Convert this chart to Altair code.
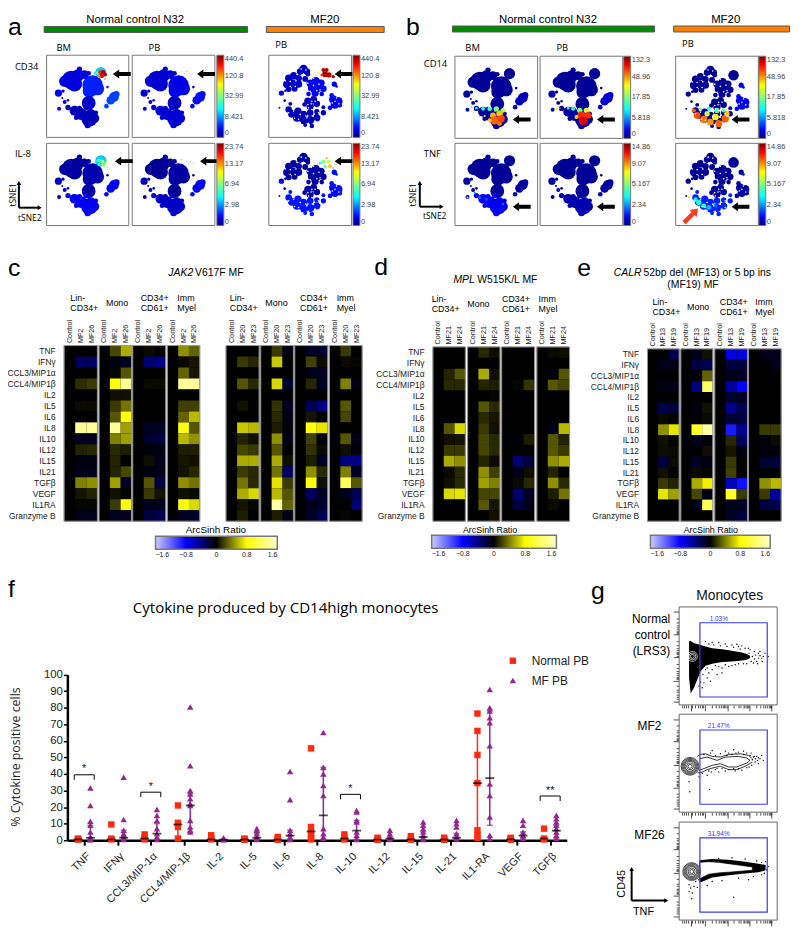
import altair as alt
import pandas as pd

# ---------------------------------------------------------------- data
CYTO_HEAT = ["TNF", "IFNγ", "CCL3/MIP1α", "CCL4/MIP1β", "IL2", "IL5", "IL6", "IL8", "IL10", "IL12",
             "IL15", "IL21", "TGFβ", "VEGF", "IL1RA", "Granzyme B"]

C1 = [
    [[0,-.3,0,.14,0,.03,0,1.4,-.1,.11,-.05,-.08,.4,.06,.02,-.08], [0,-.3,0,.18,0,.03,0,1.4,-.1,.13,-.05,-.08,.45,.11,.02,-.08]],
    [[.22,-.05,.02,.85,.05,.18,.27,1.4,.4,.13,.11,.11,.5,.05,.18,-.1], [.54,-.1,.27,1.4,.05,.36,.85,.5,.5,.09,0,.22,-.1,.02,.85,-.1]],
    [[.03,-.35,0,.03,0,0,0,-.1,-.15,-.03,.04,-.05,.27,.18,-.1,-.2], [.01,-.4,0,.03,0,0,0,-.12,-.2,-.06,-.08,-.08,-.2,.06,-.08,-.25]],
    [[.45,.03,.31,1.4,0,.2,.31,.85,.58,.09,.07,.06,.45,.05,.85,-.1], [.31,.07,.07,1.4,0,.2,.58,.27,.45,.09,.05,.12,.36,.03,.68,-.12]],
]
C2 = [
    [[0,.18,0,.27,0,.05,0,.63,.11,.22,.54,.18,.36,.54,.06,.09], [0,.12,0,.13,0,0,0,.58,.05,.18,.54,.13,.13,.68,.02,0]],
    [[.18,.63,0,.68,0,.16,.13,.09,.45,.27,.54,.36,.72,.58,1.45,.09], [-.06,0,0,-.15,0,-.1,-.05,-.03,-.05,0,.04,-.3,.18,.27,.31,-.08]],
    [[-.12,.2,-.08,.12,0,-.25,.07,.85,.2,.16,.09,.45,.85,-.3,-.08,-.12], [-.15,.03,-.1,-.12,0,-.4,0,.72,-.06,.03,-.12,.13,.05,-.12,-.15,-.25]],
    [[.18,.03,0,.4,0,.27,.22,0,.27,.05,-.4,.4,1.15,-.1,0,.02], [0,.02,0,-.05,0,0,0,0,-.08,-.03,-.4,-.12,.27,-.25,-.35,0]],
]
D1 = [
    [[0,0,.11,.13,0,0,0,.27,.05,.18,.54,.03,.05,.68,0,0], [0,0,.27,.13,0,0,0,.68,.06,.18,.45,.13,.13,.72,0,0]],
    [[.13,0,.54,.11,0,.27,.13,.18,.22,.22,.11,.45,.5,.22,.27,0], [.04,0,.05,.09,.02,.13,.07,.05,.13,.13,.03,.2,.4,.22,.07,.05]],
    [[0,0,0,.02,0,0,0,0,-.03,0,-.35,-.08,.03,-.35,-.2,0], [0,0,0,.16,0,0,0,0,.09,0,-.2,.04,.13,-.12,-.08,0]],
    [[.03,0,-.03,.27,0,0,0,-.08,.27,.27,.45,.11,.45,.09,.03,0], [.04,0,.27,.22,0,0,0,.58,.11,.18,.54,0,.13,.36,0,0]],
]
E1 = [
    [[0,-.08,0,-.06,0,-.25,.03,.45,.05,.04,-.2,.05,.18,.72,0,0], [-.25,-.06,0,-.08,0,-.2,.02,.72,.02,.03,.03,.01,.11,.5,0,0]],
    [[-.08,-.2,0,-.4,0,-.05,-.02,.95,-.08,0,-.12,.03,.54,.22,-.08,0], [.05,-.25,.31,1.2,0,.05,.03,1.45,-.05,.04,-.05,.02,.76,-.05,1.15,0]],
    [[-.7,-.2,-.08,-.5,-.15,-.45,-.15,-.9,.13,.07,.18,.2,-.6,.95,-.08,-.12], [-.7,-.2,-.12,-.8,-.12,-.25,-.2,-.45,-.3,-.06,.01,.01,-.85,.18,-.12,-.2]],
    [[-.08,0,0,0,0,0,0,.18,-.03,-.03,-.15,0,.45,.18,-.2,0], [-.08,-.08,0,0,0,0,0,.18,.03,-.03,-.2,0,.58,-.5,-.25,0]],
]

CYTO_F = ["TNF", "IFNγ", "CCL3/MIP-1α", "CCL4/MIP-1β", "IL-2", "IL-5", "IL-6", "IL-8", "IL-10", "IL-12",
          "IL-15", "IL-21", "IL1-RA", "VEGF", "TGFβ"]
NORMAL = [[.5,.5,.7,1], [9.5,1,.5], [3.5,1.5,.5], [21,10.5,8,1], [3,1.5,.5], [1,.5,.3], [2,1,.3],
          [55.5,8,5,3,1,.5], [3.5,1.5,.5], [1.5,.5,.3], [2.5,1,.3], [1.5,.5,.3],
          [76.5,66,51.5,34.5,6,3,1.5], [1.5,.7,.3], [7,1,.5]]
MF = [[31.5,21,11.5,9,5,2,1,.5,.3], [38,12.5,6,4,3,1.5,.5], [18.5,15,12,7,4,2,.5],
      [80.5,45,30,28,25,22,21,12,8,6,5], [1.5,.5,.3], [7,6,4,2,1,.5], [41.5,24.5,6,4,2,1,.5],
      [65,44,40,33,27,7,4,2,1], [18,17,12,11,5,3,1,.5], [6,4,2,1,.5], [11,9,7,5,3,1.5,.5],
      [12,10,8,4,2,.7], [91,80,78,74,71,57,34,27,14,3,1], [12,9,5,3,1], [15,13,11,9,7,5,3,1]]
NORMAL_MED = [.5,.5,1,9.5,.5,.4,.4,5.3,1,.4,.5,.4,34.5,.5,1]
MF_MED = [1.5,1.5,4,21,.3,1.5,2.8,15,5.8,1,2,1.5,37.5,2.8,5.8]
NORMAL_LO = [.5,.5,.5,1,.5,.3,.3,.5,.5,.3,.3,.3,.5,.3,.5]
NORMAL_HI = [.7,1,2,11,1.5,.5,1,8,1.5,.5,1,.5,66,.7,1]
MF_LO = [.3,.5,.5,5,.3,.5,.5,.5,.5,.5,.5,.7,9,1,1]
MF_HI = [9,6,10,28,.5,4,6,44,12,2,5,4,78,5,9]
BRACKETS = [("TNF", 39.5, "*"), ("CCL3/MIP-1α", 29, "*"), ("IL-10", 27.7, "*"), ("TGFβ", 26.7, "**")]

# tSNE clusters: region, position, cluster radius
NORMAL_BLOBS = [
    ("tl",55,79,17),("tl",75,75,28),("tl",95,62,19),("tl",85,87,23),("tl",100,42,8),("tl",115,59,13),("tl",128,55,7),
    ("center",140,92,31),("center",130,109,20),("center",155,102,20),("center",158,84,10),("center",185,97,4),
    ("ring",128,145,21),
    ("right",205,127,15),("right",195,137,13),("right",182,155,7),("right",212,119,10),
    ("left",36,115,11),("left",50,109,5),("left",55,142,6),("left",65,137,4),("left",38,163,6),("left",48,130,3),
    ("bottom",65,159,8),("bottom",85,169,15),("bottom",105,179,18),("bottom",130,192,25),("bottom",145,192,15),
    ("bottom",125,212,10),("bottom",100,162,8),("bottom",120,159,8),("bottom",135,177,13),("bottom",90,190,7),("bottom",150,175,7),
    ("cd34",165,53,17),
]
MF_BLOBS = [
    ("tl",105,42,13),("tl",95,50,10),("tl",115,50,10),("tl",60,70,11),("tl",75,62,11),("tl",90,70,10),("tl",55,88,12),("tl",72,85,12),
    ("tl",90,88,11),("tl",60,103,9),("tl",78,102,9),("tl",110,72,9),("tl",118,58,7),
    ("center",125,85,11),("center",142,78,12),("center",158,85,11),("center",130,100,12),("center",148,98,14),("center",165,102,10),
    ("center",140,115,11),("center",120,118,7),("center",160,118,7),
    ("ring",118,140,11),("ring",135,135,11),("ring",145,148,10),("ring",125,155,11),("ring",108,150,7),
    ("right",195,135,13),("right",210,140,13),("right",200,150,13),("right",190,122,7),("right",185,160,7),("right",215,152,7),
    ("right",198,88,8),("right",205,95,4),
    ("left",38,115,8),("left",50,108,4),("left",32,160,3),("left",48,138,4),
    ("bottom",65,148,6),("bottom",60,165,10),("bottom",70,178,12),("bottom",88,170,11),("bottom",85,190,12),("bottom",105,180,11),
    ("bottom",105,198,12),("bottom",125,175,10),("bottom",125,197,12),("bottom",145,190,11),("bottom",145,172,8),("bottom",165,175,8),
    ("bottom",165,158,6),("bottom",130,215,7),("bottom",110,212,6),
    ("cd34",175,58,16),
]
MF_SPECKLE = [(100,60),(82,78),(65,95),(118,85),(135,92),(152,88),(125,128),(150,128),(128,148),(118,150),(138,158),
              (95,100),(70,118),(85,115),(100,130),(70,155),(85,150),(105,165),(130,165),(150,160),(95,180),(115,190),
              (135,185),(155,182),(78,192),(95,205),(120,207),(200,140),(192,145),(108,60),(85,58),(50,78),(170,90),(135,70),
              (110,105),(65,80),(80,95),(98,42),(112,45),(145,108),(125,110),(155,105),(130,140),(120,160),(140,140),(60,175),(75,170),
              (90,195),(112,185),(140,200),(205,130),(212,148),(150,175)]

IL8_HOT_BM = [(150,55,4,.35),(160,52,6,.45),(170,55,6,.55),(172,65,6,.5),(160,65,5,.4),(180,60,4,.6),(185,72,2,.7)]
IL8_HOT_PB = [(150,50,2,.4),(165,55,2,.55),(175,55,2,.4),(185,60,1.5,.8),(170,62,2,.45)]
IL8_HOT_MF = [(155,60,4,.35),(165,55,6,.5),(180,55,6,.6),(185,70,6,.7),(170,70,5,.45),(195,75,2,.8),(175,45,3,.75)]
CD34_HOT_BM = [(155,54,5,.5),(147,54,4,.35),(163,52,6,.85),(172,52,7,.95),(178,59,6,.97),(168,62,7,.9),(160,65,4,.75),(178,72,2,.9)]
CD34_HOT_PB = [(150,48,1.5,.75),(158,55,1.5,.8),(165,50,1.5,.85),(172,56,1.5,.8),(168,46,1,.7),(180,58,1,.85)]
CD34_HOT_MF = [(140,50,2,.6),(152,55,3,.65),(165,45,6,.95),(175,45,6,.95),(170,58,9,.97),(182,60,8,.95),(195,65,5,.97),(160,60,4,.85)]
CD14_HOT_BM = [(50,155,3,.4),(65,158,4,.35),(85,160,6,.38),(105,160,7,.42),(125,160,8,.5),(145,165,7,.55),(135,175,10,.7),
               (115,180,9,.72),(120,195,13,.8),(140,190,11,.83),(105,195,6,.7),(135,205,7,.78),(90,182,3,.6),(75,183,2,.75)]
CD14_HOT_PB = [(60,158,2,.6),(85,158,4,.4),(100,160,6,.4),(120,165,8,.5),(140,165,8,.6),(125,180,12,.85),(145,180,10,.85),
               (130,197,13,.92),(110,185,6,.7),(50,160,3,.7),(40,155,2,.6)]
CD14_HOT_MF = [(55,165,6,.8),(65,180,10,.82),(85,192,11,.78),(105,200,10,.75),(130,205,11,.8),(150,190,11,.8),(155,175,8,.7),
               (120,185,10,.65),(95,175,8,.6),(125,165,8,.45),(100,160,6,.4),(145,165,6,.45),(75,160,5,.5)]
TNF_HOT_BM = [(38,165,3,.45),(60,150,3,.25),(75,165,5,.2),(95,170,5,.18),(145,185,4,.2)]
TNF_HOT_MF = [(70,180,8,.4),(85,190,7,.42),(60,170,6,.35),(100,195,7,.3),(120,190,6,.2),(40,165,3,.7),(150,195,3,.4)]

# ---------------------------------------------------------------- helpers
W, H = 792, 924
SANS = "Liberation Sans"
HUMAN = "Open Sans"
layers = []

def one():
    return alt.Data(values=[{}])

def T(s, x, y, size=10, font=SANS, align="left", color="black", angle=0, style="normal"):
    kw = dict(text=s, fontSize=size, font=font, align=align, baseline="middle", color=color, fontStyle=style)
    if angle:
        kw["angle"] = angle
    layers.append(alt.Chart(one()).mark_text(**kw).encode(x=alt.value(x - 8), y=alt.value(y - 8)))

def box(x0, x1, y0, y1, stroke="#777777", sw=1.0, fill=None):
    kw = dict(stroke=stroke, strokeWidth=sw, fillOpacity=0 if fill is None else 1)
    kw["fill"] = fill if fill else "white"
    layers.append(alt.Chart(one()).mark_rect(**kw).encode(
        x=alt.value(x0 - 8), x2=alt.value(x1 - 8), y=alt.value(y0 - 8), y2=alt.value(y1 - 8)))

ARROW = "M-1,0 L-0.3,-0.5 L-0.3,-0.22 L1,-0.22 L1,0.22 L-0.3,0.22 L-0.3,0.5 Z"

def arrow(x, y, color="black", size=324, angle=0):
    kw = dict(shape=ARROW, filled=True, color=color, size=size, opacity=1, strokeWidth=0)
    if angle:
        kw["angle"] = angle
    layers.append(alt.Chart(one()).mark_point(**kw).encode(x=alt.value(x - 8), y=alt.value(y - 8)))

def lshape(cx, cy, up, right, sw=2):
    layers.append(alt.Chart(one()).mark_rule(color="black", strokeWidth=sw).encode(
        x=alt.value(cx - 8), y=alt.value(cy - 8), y2=alt.value(up - 8)))
    layers.append(alt.Chart(one()).mark_rule(color="black", strokeWidth=sw).encode(
        x=alt.value(cx - 8), x2=alt.value(right - 8), y=alt.value(cy - 8)))
    for shp, x, y in (("triangle-up", cx, up), ("triangle-right", right, cy)):
        layers.append(alt.Chart(one()).mark_point(shape=shp, filled=True, color="black", size=22, opacity=1).encode(
            x=alt.value(x - 8), y=alt.value(y - 8)))

def S(lo, hi, r0, r1):
    return alt.Scale(domain=[lo, hi], range=[r0 - 8, r1 - 8], nice=False, zero=False)

JET_DOM = [0, .11, .35, .5, .65, .89, 1]
JET_RNG = ["#00007f", "#0000ff", "#00ffff", "#7fff7f", "#ffff00", "#ff0000", "#7f0000"]

def tsne(x0, x1, y0, y1, blobs, levels, hot=(), speckle=(), bar=None, barx=None):
    box(x0, x1, y0, y1)
    rows = [dict(x=b[1], y=b[2], r=4 * (b[3] / 3) ** 2, level=levels.get(b[0])) for b in blobs if b[0] in levels]
    rows += [dict(x=h[0], y=h[1], r=4 * (h[2] / 3) ** 2, level=h[3]) for h in hot]
    legend = None
    if bar:
        expr = "[" + ",".join("'%s'" % b for b in bar) + "][round(datum.value*4)]"
        legend = alt.Legend(orient="none", legendX=barx - 8, legendY=y0 - 8, direction="vertical", gradientLength=y1 - y0,
                            gradientThickness=7, values=[0, .25, .5, .75, 1], labelExpr=expr, labelFontSize=7.5, labelFont=SANS,
                            labelColor="#444444", title=None, padding=0, gradientStrokeColor="#777777", gradientStrokeWidth=1,
                            labelOffset=1, tickCount=5)
    layers.append(alt.Chart(pd.DataFrame(rows)).mark_circle(opacity=1).encode(
        x=alt.X("x:Q", scale=S(0, 250, x0, x1), axis=None),
        y=alt.Y("y:Q", scale=S(0, 250, y0, y1), axis=None),
        size=alt.Size("r:Q", scale=None),
        color=alt.Color("level:Q", scale=alt.Scale(domain=JET_DOM, range=JET_RNG, nice=False, zero=False, clamp=True, interpolate="rgb"),
                        legend=legend)))
    if speckle:
        sp = pd.DataFrame(speckle, columns=["x", "y"])
        layers.append(alt.Chart(sp).mark_circle(color="white", size=2.5, opacity=1).encode(
            x=alt.X("x:Q", scale=S(0, 250, x0, x1), axis=None),
            y=alt.Y("y:Q", scale=S(0, 250, y0, y1), axis=None)))

HEAT_DOM = [-1.6, -.8, 0, .8, 1.6]
HEAT_RNG = ["#ccccff", "#0000ff", "#000000", "#ffff00", "#ffffcc"]

def heat(spans, top, bottom, patients, values, ylabels=True, legend_at=None):
    cols = ["Control"] + patients
    for i, ((x0, x1), vals) in enumerate(zip(spans, values)):
        rows = []
        for r, c in enumerate(CYTO_HEAT):
            rows.append(dict(c=c, col=cols[0], v=0))
            rows.append(dict(c=c, col=cols[1], v=vals[0][r]))
            rows.append(dict(c=c, col=cols[2], v=vals[1][r]))
        legend = None
        if i == 0 and legend_at:
            legend = alt.Legend(orient="none", legendX=legend_at[0] - 8, legendY=legend_at[1] - 8, direction="horizontal",
                                gradientLength=legend_at[2], gradientThickness=13, values=HEAT_DOM, title=None, padding=0,
                                labelFontSize=7, labelFont=SANS, labelColor="#222222",
                                labelExpr="datum.value==0?'0':format(datum.value,'.1f')",
                                gradientStrokeColor="#777777", gradientStrokeWidth=1.5)
        yaxis = None
        if i == 0 and ylabels:
            yaxis = alt.Axis(orient="left", offset=-(x0 - 8), title=None, domain=False, ticks=False, labelFontSize=8.5,
                             labelFont=SANS, labelPadding=9, labelColor="#222222", labelOverlap=False, grid=False)
        box(x0, x1, top, bottom, stroke="#999999", sw=1, fill="black")
        layers.append(alt.Chart(pd.DataFrame(rows)).mark_rect().encode(
            x=alt.X("col:N", sort=None, scale=alt.Scale(domain=cols, range=[x0 - 8, x1 - 8], paddingInner=0, paddingOuter=0),
                    axis=alt.Axis(orient="top", offset=-(top - 8), title=None, domain=False, ticks=False, labelAngle=270,
                                  labelAlign="left", labelBaseline="middle", labelFontSize=7.3, labelFont=SANS,
                                  labelPadding=3, labelColor="#222222", labelOverlap=False, grid=False)),
            y=alt.Y("c:N", sort=None, scale=alt.Scale(domain=CYTO_HEAT, range=[top - 8, bottom - 8], paddingInner=0, paddingOuter=0),
                    axis=yaxis),
            color=alt.Color("v:Q", scale=alt.Scale(domain=HEAT_DOM, range=HEAT_RNG, nice=False, zero=False, clamp=True, interpolate="rgb"),
                            legend=legend)))
        box(x0, x1, top, bottom, stroke="#999999", sw=1)

def headers(xs, y_two, y_one, size=9):
    T("Lin-", xs[0], y_two, size); T("CD34+", xs[0], y_two + 10, size)
    T("Mono", xs[1], y_one, size)
    T("CD34+", xs[2], y_two, size); T("CD61+", xs[2], y_two + 10, size)
    T("Imm", xs[3], y_two, size); T("Myel", xs[3], y_two + 10, size)

# ---------------------------------------------------------------- panel letters
for s, x, y in (("a", 8, 23), ("b", 410, 23), ("c", 8, 266), ("d", 378, 265), ("e", 583, 266), ("f", 8, 590), ("g", 597, 592)):
    T(s, x, y, 25)

# ---------------------------------------------------------------- panel a
GREEN, ORANGE = "#008a00", "#ff8000"
T("Normal control N32", 136.5, 15, 11.5, align="center"); T("MF20", 328, 15, 11.5, align="center")
box(44.5, 250, 22, 28, stroke="#555555", fill=GREEN); box(269, 388, 22, 28, stroke="#555555", fill=ORANGE)
T("BM", 57, 44, 9.5, HUMAN); T("PB", 150, 44, 9.5, HUMAN); T("PB", 278, 41, 9.5, HUMAN)
T("CD34", 15, 63, 9.5, HUMAN); T("IL-8", 15, 151, 9.5, HUMAN)
B_CD34 = ["0", "8.421", "32.99", "120.8", "440.4"]
B_IL8 = ["0", "2.98", "6.94", "13.17", "23.74"]
tsne(47, 130, 51, 134, NORMAL_BLOBS, dict(tl=.08, center=.14, ring=.07, right=.17, left=.1, bottom=.05, cd34=.3), CD34_HOT_BM)
tsne(133.5, 217, 51, 134, NORMAL_BLOBS, dict(tl=.07, center=.09, ring=.06, right=.12, left=.08, bottom=.07), CD34_HOT_PB,
     bar=B_CD34, barx=219)
tsne(271.5, 355, 51, 134, MF_BLOBS, dict(tl=.06, center=.1, ring=.05, right=.1, left=.07, bottom=.05), CD34_HOT_MF, MF_SPECKLE,
     bar=B_CD34, barx=356.5)
tsne(47, 130, 140, 223, NORMAL_BLOBS, dict(tl=.03, center=.04, ring=.03, right=.1, left=.06, bottom=.1, cd34=.3), IL8_HOT_BM)
tsne(133.5, 217, 140, 223, NORMAL_BLOBS, dict(tl=.02, center=.03, ring=.02, right=.1, left=.05, bottom=.06), IL8_HOT_PB,
     bar=B_IL8, barx=219)
tsne(271.5, 355, 140, 223, MF_BLOBS, dict(tl=.03, center=.03, ring=.03, right=.12, left=.08, bottom=.13, ), IL8_HOT_MF, MF_SPECKLE,
     bar=B_IL8, barx=356.5)
for x, y in ((123, 70), (208, 70), (347, 70), (125, 158), (211, 158), (347, 158)):
    arrow(x, y)
lshape(19, 205, 180, 40)
T("tSNE1", 13, 192, 8.5, HUMAN, align="center", angle=270); T("tSNE2", 30, 215, 8.5, HUMAN, align="center")

# ---------------------------------------------------------------- panel b
T("Normal control N32", 553.5, 15, 11.5, align="center"); T("MF20", 733, 15, 11.5, align="center")
box(457, 661, 21.5, 27.5, stroke="#555555", fill=GREEN); box(680.5, 797.5, 21.5, 27.5, stroke="#555555", fill=ORANGE)
T("BM", 470, 44, 9.5, HUMAN); T("PB", 562, 44, 9.5, HUMAN); T("PB", 689, 40, 9.5, HUMAN)
T("CD14", 428, 60, 9.5, HUMAN); T("TNF", 428, 151, 9.5, HUMAN)
B_CD14 = ["0", "5.818", "17.85", "48.96", "132.3"]
B_TNF = ["0", "2.34", "5.167", "9.07", "14.86"]
LOW = dict(tl=.02, center=.02, ring=.02, right=.03, left=.03, bottom=.03, cd34=.02)
tsne(459.5, 543, 52, 135, NORMAL_BLOBS, {**LOW, "right": .05}, CD14_HOT_BM)
tsne(545.5, 629, 52, 135, NORMAL_BLOBS, {**LOW, "right": .07}, CD14_HOT_PB, bar=B_CD14, barx=630)
tsne(682.5, 766, 52, 135, MF_BLOBS, {**LOW, "right": .1}, CD14_HOT_MF, MF_SPECKLE, bar=B_CD14, barx=766.5)
tsne(459.5, 543, 140, 223, NORMAL_BLOBS, {**LOW, "bottom": .1}, TNF_HOT_BM)
tsne(545.5, 629, 140, 223, NORMAL_BLOBS, {**LOW, "bottom": .04}, (), bar=B_TNF, barx=630)
tsne(682.5, 766, 140, 223, MF_BLOBS, {**LOW, "bottom": .14}, TNF_HOT_MF, MF_SPECKLE, bar=B_TNF, barx=766.5)
for x, y in ((527, 116), (612, 116), (748, 116), (527, 204), (612, 204), (748, 204)):
    arrow(x, y)
arrow(698, 213, color="#ff3a1f", size=400, angle=135)
lshape(424, 204, 180, 446)
T("tSNE1", 417, 192, 8.5, HUMAN, align="center", angle=270); T("tSNE2", 439, 213, 8.5, HUMAN, align="center")

# ---------------------------------------------------------------- heatmaps c, d, e
T("JAK2", 170, 271, 10.5, style="italic"); T("V617F MF", 197, 271, 10.5)
headers([71, 107, 142, 179], 296, 301); headers([232, 268, 303, 340], 296, 301)
heat([(64.7, 98.3), (100, 132.7), (134, 167.3), (169, 201.7)], 344.3, 521.7, ["MF2", "MF26"], C1,
     legend_at=(157, 537, 123))
heat([(228.3, 261.7), (263.3, 296.3), (297.7, 331), (332.7, 365.7)], 344.3, 521.7, ["MF20", "MF23"], C2, ylabels=False)
T("ArcSinh Ratio", 218, 531, 10, align="center")

T("MPL", 458, 278, 10.5, style="italic"); T("W515K/L MF", 482, 278, 10.5)
headers([436, 472, 507, 544], 297, 302)
heat([(437.3, 470), (472.3, 505), (506.7, 540), (542.3, 575.3)], 345.7, 521.7, ["MF21", "MF24"], D1, legend_at=(436, 536, 126))
T("ArcSinh Ratio", 495, 531, 9, align="center")

T("CALR", 620, 271, 10.5, style="italic"); T("52bp del (MF13) or 5 bp ins", 650, 271, 10.5)
T("(MF19) MF", 700, 283, 10.5, align="center")
headers([659, 694, 727, 763], 300, 305)
heat([(654, 686), (687.7, 720), (722, 755), (756, 789)], 347.7, 521.7, ["MF13", "MF19"], E1, legend_at=(657, 536, 121))
T("ArcSinh Ratio", 718, 531, 9, align="center")

# ---------------------------------------------------------------- panel f
T("Cytokine produced by CD14high monocytes", 288.5, 609, 15.2, HUMAN, align="center")
T("% Cytokine  positive cells", 16, 760, 12.5, HUMAN, align="center", angle=270, color="#222222")
RED, PURPLE = "#ff2a10", "#93278f"
OFFSET = .185
FX = S(-.5, 14.5, 68.2, 572.5)
FY = S(0, 100, 844, 676.7)
pts = []
stat = []
for i, c in enumerate(CYTO_F):
    for v in NORMAL[i]:
        pts.append(dict(pos=i - OFFSET, v=v, s="Normal PB"))
    for v in MF[i]:
        pts.append(dict(pos=i + OFFSET, v=v, s="MF PB"))
    stat.append(dict(pos=i - OFFSET, med=NORMAL_MED[i], lo=NORMAL_LO[i], hi=NORMAL_HI[i], s="Normal PB"))
    stat.append(dict(pos=i + OFFSET, med=MF_MED[i], lo=MF_LO[i], hi=MF_HI[i], s="MF PB"))
pts = pd.DataFrame(pts)
stat = pd.DataFrame(stat)

layers.append(alt.Chart(stat[stat.s == "Normal PB"]).mark_rule(color=RED, strokeWidth=1.5).encode(
    x=alt.X("pos:Q", scale=FX, axis=alt.Axis(
        orient="bottom", offset=(844 - 8) - H, values=list(range(15)), title=None, grid=False,
        labelExpr="[" + ",".join("'%s'" % c for c in CYTO_F) + "][datum.value]",
        labelAngle=315, labelAlign="right", labelBaseline="top", labelFontSize=11, labelFont=SANS, labelColor="#222222",
        labelPadding=5, labelOverlap=False, domainColor="black", domainWidth=2.5, tickColor="black", tickWidth=2, tickSize=5)),
    y=alt.Y("lo:Q", scale=FY, axis=alt.Axis(
        orient="left", offset=-(68 - 8), values=list(range(0, 101, 10)), title=None, grid=False, labelFontSize=11.5,
        labelFont=SANS, labelColor="#222222", labelPadding=1, domainColor="black", domainWidth=2.5, tickColor="black",
        tickWidth=1.5, tickSize=4)),
    y2="hi:Q"))
layers.append(alt.Chart(stat[stat.s == "MF PB"]).mark_rule(color=PURPLE, strokeWidth=1.5).encode(
    x=alt.X("pos:Q", scale=FX, axis=None), y=alt.Y("lo:Q", scale=FY, axis=None), y2="hi:Q"))
for col in ("lo", "hi"):
    layers.append(alt.Chart(stat[stat.s == "MF PB"]).mark_tick(color=PURPLE, orient="horizontal", size=6, thickness=1.5).encode(
        x=alt.X("pos:Q", scale=FX, axis=None), y=alt.Y(col + ":Q", scale=FY, axis=None)))
layers.append(alt.Chart(pts[pts.s == "Normal PB"]).mark_point(shape="square", filled=True, color=RED, size=42, opacity=1).encode(
    x=alt.X("pos:Q", scale=FX, axis=None), y=alt.Y("v:Q", scale=FY, axis=None)))
layers.append(alt.Chart(pts[pts.s == "MF PB"]).mark_point(shape="triangle-up", filled=True, color=PURPLE, size=42, opacity=1).encode(
    x=alt.X("pos:Q", scale=FX, axis=None), y=alt.Y("v:Q", scale=FY, axis=None)))
layers.append(alt.Chart(stat).mark_tick(color="black", orient="horizontal", size=9, thickness=1.8).encode(
    x=alt.X("pos:Q", scale=FX, axis=None), y=alt.Y("med:Q", scale=FY, axis=None)))
br = []
for n, (c, y, lab) in enumerate(BRACKETS):
    i = CYTO_F.index(c)
    for k, (dx, dy) in enumerate(((-.3, -3), (-.3, 0), (.3, 0), (.3, -3))):
        br.append(dict(b=n, k=k, pos=i + dx, v=y + dy))
layers.append(alt.Chart(pd.DataFrame(br)).mark_line(color="black", strokeWidth=1).encode(
    x=alt.X("pos:Q", scale=FX, axis=None), y=alt.Y("v:Q", scale=FY, axis=None), detail="b:N", order="k:Q"))
stars = pd.DataFrame([dict(pos=CYTO_F.index(c), v=y + 3.2, t=lab) for c, y, lab in BRACKETS])
layers.append(alt.Chart(stars).mark_text(fontSize=11, font=SANS, baseline="middle", color="#222222").encode(
    x=alt.X("pos:Q", scale=FX, axis=None), y=alt.Y("v:Q", scale=FY, axis=None), text="t:N"))
layers.append(alt.Chart(one()).mark_point(shape="square", filled=True, color=RED, size=42, opacity=1).encode(
    x=alt.value(518 - 8), y=alt.value(662.7 - 8)))
layers.append(alt.Chart(one()).mark_point(shape="triangle-up", filled=True, color=PURPLE, size=42, opacity=1).encode(
    x=alt.value(518 - 8), y=alt.value(682.7 - 8)))
T("Normal PB", 537, 662.7, 12, color="#222222"); T("MF PB", 537, 682.7, 12, color="#222222")

# ---------------------------------------------------------------- panel g
X_MAJOR = [35, 78, 146, 214, 280]
X_MINOR = [8, 14, 20, 26, 40, 48, 56, 62, 68, 72, 98, 111, 119, 126, 131, 136, 139, 143, 166, 179, 187, 194, 199, 204, 207, 211,
           234, 247, 255, 262, 267, 272, 275, 279]
Y_MAJOR = [15, 83, 153, 223, 287]
Y_MINOR = [35, 48, 56, 63, 68, 73, 76, 80, 103, 116, 124, 131, 136, 141, 144, 148, 173, 186, 194, 201, 206, 211, 214, 218,
           240, 250, 258, 265, 272, 278]
WEDGE_X = [30, 35, 45, 55, 65, 80, 100, 130, 160, 190, 205, 215]
WEDGE_TOP = [105, 103, 110, 112, 115, 120, 125, 128, 133, 138, 143, 148]
WEDGE_BOT = [215, 262, 245, 220, 195, 178, 172, 167, 165, 162, 160, 155]
DOTS1 = [(245,148),(250,155),(240,140),(235,165),(255,150),(225,170),(215,130),(200,125),(180,120),(160,115),(140,112),(120,108),
         (100,108),(80,105),(150,180),(130,185),(100,190),(90,200),(85,215),(75,230),(95,225),(130,200),(115,205),(70,245),(60,240),
         (110,178),(170,175),(195,172),(210,125),(190,118),(228,135),(260,140),(238,172),(175,113),(72,205),(80,190),(65,228),
         (222,150),(228,158),(232,146),(218,165),(212,140),(240,155),(205,172),(185,128),(165,122),(145,120),(125,118),(105,115),
         (90,112),(85,185),(120,180),(140,175),(160,178),(180,172),(245,135),(252,165),(270,150)]
TAIL2 = [(62,135),(85,130),(115,140),(140,130),(180,128),(205,133),(215,140),(205,148),(175,160),(150,160),(125,150),(100,155),(75,165),(60,170)]
OUTER2 = [(55,128),(62,122),(80,120),(100,128),(125,130),(150,122),(185,120),(210,125),(222,135)]
OUTER2B = [(55,178),(70,176),(85,168),(105,162),(125,158),(150,168),(175,168),(200,158),(222,145)]
DOTS2 = [(75,122),(95,118),(110,125),(125,120),(140,112),(150,118),(165,108),(180,115),(195,112),(205,118),(215,125),(225,130),
         (235,128),(245,135),(230,145),(240,150),(220,155),(205,162),(190,170),(170,172),(150,168),(130,165),(110,168),(90,172),
         (70,180),(85,185),(60,190),(30,205),(92,228),(32,235),(250,125),(222,138),(238,140),(160,122),(100,110),(120,175),(180,165),
         (232,135),(228,128),(240,132),(218,118),(196,122),(172,118),(145,125),(255,140),(212,160),(165,165),(140,172),(115,165),(98,175)]
FAN3_X = [62, 100, 150, 200, 240, 262]
FAN3_TOP = [116, 112, 114, 120, 126, 130]
FAN3_BOT = [184, 168, 161, 156, 152, 146]
TAIL3_X = [62, 90, 120, 150, 185, 222]
TAIL3_TOP = [122, 120, 122, 126, 131, 136]
TAIL3_BOT = [172, 158, 154, 152, 149, 146]
DOTS3 = [(30,190),(35,200),(40,215),(38,232),(30,210),(45,195),(55,198),(60,175),(165,228),(50,180),(100,180),(130,178),(180,170),
         (225,165),(250,160),(262,120),(258,155),(85,192),(270,135),(210,175),(120,110),(160,108),(200,112),(235,118),(250,122),(265,145)]
RING_SIZES = [16, 49, 100, 144, 196, 256, 324]
FLOW_POS = [(115, "1.03%"), (440, "21.47%"), (767, "31.94%")]

def flow(top, pct, kind):
    x0, x1 = 686, 785
    y0 = 570 + top / 3
    y1 = y0 + 99
    box(x0, x1, y0, y1, stroke="#666666", fill="white")
    sx, sy = S(0, 297, x0, x1), S(0, 297, y0, y1)
    X = lambda f: alt.X(f, scale=sx, axis=None)
    Y = lambda f: alt.Y(f, scale=sy, axis=None)
    for vals, size in ((X_MINOR, 3), (X_MAJOR, 6)):
        layers.append(alt.Chart(pd.DataFrame(dict(x=vals))).mark_point(opacity=0).encode(
            x=alt.X("x:Q", scale=sx, axis=alt.Axis(orient="bottom", offset=(y1 - 8) - H, values=vals, labels=False, title=None,
                                                   domain=False, grid=False, tickColor="#222222", tickSize=size, tickWidth=.8))))
    for vals, size in ((Y_MINOR, 3), (Y_MAJOR, 6)):
        layers.append(alt.Chart(pd.DataFrame(dict(y=vals))).mark_point(opacity=0).encode(
            y=alt.Y("y:Q", scale=sy, axis=alt.Axis(orient="left", offset=-(x0 - 8), values=vals, labels=False, title=None,
                                                   domain=False, grid=False, tickColor="#222222", tickSize=size, tickWidth=.8))))
    if kind == 0:
        wedge = pd.DataFrame(dict(x=WEDGE_X, t=WEDGE_TOP, b=WEDGE_BOT))
        layers.append(alt.Chart(wedge).mark_area(color="black", opacity=1).encode(x=X("x:Q"), y=Y("t:Q"), y2="b:Q"))
        dots = DOTS1
    elif kind == 1:
        dots = DOTS2
        for points in (TAIL2, OUTER2, OUTER2B):
            tail = pd.DataFrame([dict(k=i, x=p[0], y=p[1]) for i, p in enumerate(points)])
            layers.append(alt.Chart(tail).mark_line(color="black", strokeWidth=.8).encode(x=X("x:Q"), y=Y("y:Q"), order="k:Q"))
    else:
        dots = DOTS3
        fan = pd.DataFrame(dict(x=FAN3_X, t=FAN3_TOP, b=FAN3_BOT))
        layers.append(alt.Chart(fan).mark_area(color="black", opacity=1).encode(x=X("x:Q"), y=Y("t:Q"), y2="b:Q"))
        inner = pd.DataFrame(dict(x=TAIL3_X, t=TAIL3_TOP, b=TAIL3_BOT))
        layers.append(alt.Chart(inner).mark_area(color="white", opacity=1, stroke="black", strokeWidth=.7).encode(x=X("x:Q"), y=Y("t:Q"), y2="b:Q"))
    layers.append(alt.Chart(pd.DataFrame(dots, columns=["x", "y"])).mark_circle(color="black", size=2, opacity=1).encode(x=X("x:Q"), y=Y("y:Q")))
    center = {0: (40, 150), 1: (33, 158), 2: (38, 150)}[kind]
    rings = pd.DataFrame([dict(x=center[0], y=center[1], a=a) for a in (RING_SIZES[:3] if kind == 0 else RING_SIZES)])
    if kind:
        layers.append(alt.Chart(pd.DataFrame([dict(x=center[0], y=center[1])])).mark_circle(color="white", size=340, opacity=1).encode(x=X("x:Q"), y=Y("y:Q")))
    layers.append(alt.Chart(rings).mark_point(shape="circle", filled=False, color="white" if kind == 0 else "black", strokeWidth=.7, opacity=1).encode(
        x=X("x:Q"), y=Y("y:Q"), size=alt.Size("a:Q", scale=None)))
    box(707, 775, y0 + 16, y0 + 91, stroke="#3a3ae8", sw=1.2)
    T(pct, 726, y0 + 12, 6.5, color="#3a3ae8", align="center")

for i, (top, pct) in enumerate(FLOW_POS):
    flow(top, pct, i)
T("Monocytes", 737, 597, 14, align="center", color="#111111")
T("Normal", 677, 621, 12, align="right"); T("control", 677, 637, 12, align="right"); T("(LRS3)", 677, 653, 12, align="right")
T("MF2", 656, 729, 12, align="center"); T("MF26", 656, 839, 12, align="center")
lshape(638, 905, 873, 673, sw=2)
T("CD45", 628, 888, 11, align="center", angle=270); T("TNF", 650, 917, 11, align="center")

# ---------------------------------------------------------------- chart
chart = alt.layer(*layers).resolve_scale(x="independent", y="independent", color="independent").properties(
    width=W, height=H, padding=0, autosize=alt.AutoSizeParams(type="none", contains="padding"), background="white"
).configure_view(strokeWidth=0)

chart.save("out.html", embed_options={"renderer": "svg", "actions": False})
